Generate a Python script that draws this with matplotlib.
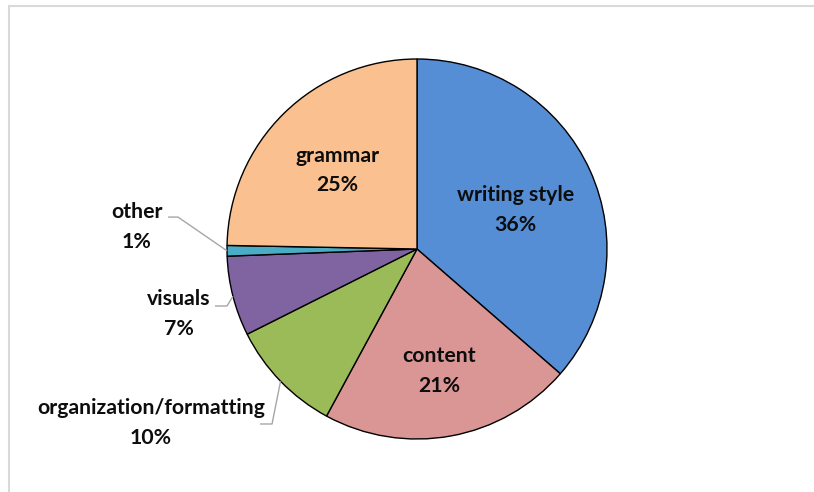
import numpy as np
import matplotlib
matplotlib.use("Agg")
import matplotlib.pyplot as plt
from matplotlib.patches import Rectangle

# ---- data ----
categories = ["writing style", "content", "organization/formatting", "visuals", "other", "grammar"]
values = [36.4, 21.5, 9.7, 6.8, 0.9, 24.7]
pct_labels = ["36%", "21%", "10%", "7%", "1%", "25%"]
colors = ["#558ED5", "#D99694", "#9BBB59", "#8064A2", "#4BACC6", "#FAC090"]

W, H = 814, 492
fig = plt.figure(figsize=(W / 100, H / 100), dpi=100)
fig.patch.set_facecolor("white")

# frame of the chart area
fig.patches.append(Rectangle((8.5 / W, -0.1), 1.2, (H - 5.5) / H + 0.1,
                             transform=fig.transFigure, fill=False,
                             edgecolor="#D9D9D9", linewidth=1.5))

cx, cy, R = 417, 249, 190
ax = fig.add_axes([(cx - R) / W, (H - cy - R) / H, 2 * R / W, 2 * R / H])
wedges, _ = ax.pie(values, colors=colors, startangle=90, counterclock=False,
                   radius=1.0, wedgeprops=dict(edgecolor="black", linewidth=1.0))
ax.set_xlim(-1, 1)
ax.set_ylim(-1, 1)
ax.set_aspect("equal")
ax.axis("off")

font = dict(family=["Lato", "DejaVu Sans"], fontweight="bold", fontsize=15.3, color="#0D0D0D")
LS = 1.6

def mid_angle(w):
    return np.deg2rad((w.theta1 + w.theta2) / 2)

# inside labels: index -> (radial fraction, pixel nudge down)
inside = {0: (0.57, 6), 5: (0.60, 3), 1: (0.645, 1.5)}
for i, (r, nd) in inside.items():
    a = mid_angle(wedges[i])
    ax.annotate(f"{categories[i]}\n{pct_labels[i]}", (r * np.cos(a), r * np.sin(a)),
                xytext=(0, -nd * 0.72), textcoords="offset points",
                ha="center", va="center", linespacing=LS, **font)

# outside labels with leader lines: index -> (label pos, elbow, line end)
outside = {
    4: ((-1.474, 0.115), (-1.258, 0.168), (-1.31, 0.168)),
    3: ((-1.253, -0.343), (-1.0, -0.30), (-1.063, -0.30)),
    2: ((-1.40, -0.917), (-0.763, -0.921), (-0.826, -0.921)),
}
for i, (lp, elbow, end) in outside.items():
    a = mid_angle(wedges[i])
    sx, sy = np.cos(a), np.sin(a)
    ax.plot([sx, elbow[0], end[0]], [sy, elbow[1], end[1]], color="#A6A6A6",
            linewidth=1.0, clip_on=False, solid_capstyle="butt")
    ax.text(lp[0], lp[1], f"{categories[i]}\n{pct_labels[i]}", ha="center",
            va="center", linespacing=LS, clip_on=False, **font)

fig.savefig("out.png", dpi=100, facecolor="white")
